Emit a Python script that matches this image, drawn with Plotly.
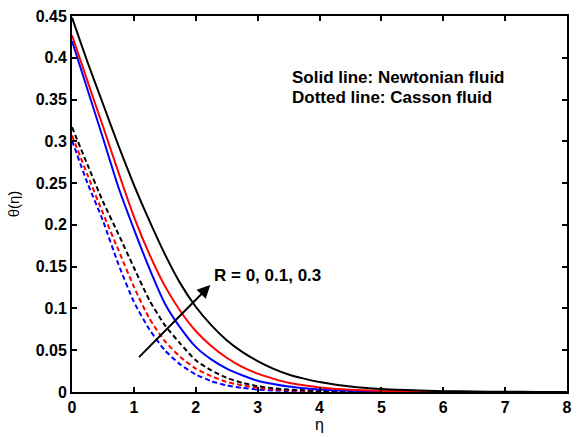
import plotly.graph_objects as go

eta = [0, 0.25, 0.5, 0.75, 1.0, 1.25, 1.5, 1.75, 2.0, 2.25, 2.5, 2.75, 3.0, 3.25, 3.5, 3.75, 4.0,
       4.5, 5.0, 5.5, 6.0, 6.5, 7.0, 7.5, 8.0]

# Newtonian (solid) R = 0, 0.1, 0.3  -> blue, red, black
newt_R0 = [0.420, 0.362, 0.304, 0.245, 0.195, 0.148, 0.106, 0.077, 0.054, 0.039, 0.028, 0.020, 0.0135, 0.0095, 0.0065, 0.0045, 0.003,
           0.0015, 0.0007, 0.0003, 0.0001, 0.0, 0.0, 0.0, 0.0]
newt_R1 = [0.427, 0.372, 0.318, 0.263, 0.210, 0.165, 0.127, 0.097, 0.073, 0.055, 0.041, 0.030, 0.022, 0.016, 0.011, 0.008, 0.0055,
           0.0027, 0.0013, 0.0006, 0.0003, 0.0001, 0.0, 0.0, 0.0]
newt_R3 = [0.448, 0.395, 0.345, 0.295, 0.248, 0.205, 0.165, 0.130, 0.102, 0.080, 0.062, 0.048, 0.037, 0.028, 0.021, 0.016, 0.012,
           0.0065, 0.0035, 0.002, 0.001, 0.0006, 0.0003, 0.0001, 0.0]

# Casson (dashed)
cas_R0 = [0.301, 0.250, 0.205, 0.153, 0.108, 0.075, 0.050, 0.033, 0.021, 0.013, 0.008, 0.005, 0.003, 0.0018, 0.001, 0.0006, 0.0004,
          0.0002, 0.0001, 0.0, 0.0, 0.0, 0.0, 0.0, 0.0]
cas_R1 = [0.307, 0.260, 0.214, 0.170, 0.126, 0.088, 0.061, 0.042, 0.028, 0.019, 0.012, 0.008, 0.005, 0.003, 0.002, 0.0012, 0.0008,
          0.0003, 0.0001, 0.0, 0.0, 0.0, 0.0, 0.0, 0.0]
cas_R3 = [0.317, 0.272, 0.228, 0.189, 0.149, 0.110, 0.080, 0.058, 0.038, 0.026, 0.017, 0.011, 0.007, 0.0045, 0.003, 0.002, 0.0012,
          0.0005, 0.0002, 0.0001, 0.0, 0.0, 0.0, 0.0, 0.0]

x_ticks = [0, 1, 2, 3, 4, 5, 6, 7, 8]
y_ticks = [0, 0.05, 0.1, 0.15, 0.2, 0.25, 0.3, 0.35, 0.4, 0.45]
y_ticklabels = ["0", "0.05", "0.1", "0.15", "0.2", "0.25", "0.3", "0.35", "0.4", "0.45"]

FONT = "Arial, 'Liberation Sans', sans-serif"

fig = go.Figure()
series = [
    (cas_R0, "blue", "dash"), (cas_R1, "red", "dash"), (cas_R3, "black", "dash"),
    (newt_R0, "blue", "solid"), (newt_R1, "red", "solid"), (newt_R3, "black", "solid"),
]
for ys, col, dash in series:
    fig.add_trace(go.Scatter(
        x=eta, y=ys, mode="lines",
        line=dict(color=col, width=2, dash="5px,3px" if dash == "dash" else "solid",
                  shape="spline", smoothing=0.6),
        showlegend=False, hoverinfo="skip"))

axis_common = dict(showline=True, linecolor="black", linewidth=2, mirror="allticks",
                   ticks="inside", ticklen=5, tickwidth=1.5, tickcolor="black",
                   showgrid=False, zeroline=False,
                   tickfont=dict(family=FONT, size=16, color="black"))

fig.update_xaxes(range=[0, 8], tickvals=x_ticks, ticktext=["<b>%s</b>" % v for v in x_ticks],
                 title=dict(text="η", font=dict(family=FONT, size=16, color="black"), standoff=4),
                 **axis_common)
fig.update_yaxes(range=[0, 0.45], tickvals=y_ticks, ticktext=["<b>%s</b>" % t for t in y_ticklabels],
                 title=dict(text="θ(η)", font=dict(family=FONT, size=15, color="black"), standoff=12),
                 **axis_common)

fig.add_annotation(x=2.235, y=0.128, ax=1.06, ay=0.040, xref="x", yref="y", axref="x", ayref="y",
                   showarrow=True, arrowhead=2, arrowsize=1.3, arrowwidth=2, arrowcolor="black", text="")
fig.add_annotation(x=2.26, y=0.140, xref="x", yref="y", text="<b>R = 0, 0.1, 0.3</b>",
                   showarrow=False, xanchor="left", yanchor="middle",
                   font=dict(family=FONT, size=17, color="black"))
fig.add_annotation(x=3.52, y=0.376, xref="x", yref="y", text="<b>Solid line: Newtonian fluid</b>",
                   showarrow=False, xanchor="left", yanchor="middle",
                   font=dict(family=FONT, size=17, color="black"))
fig.add_annotation(x=3.52, y=0.352, xref="x", yref="y", text="<b>Dotted line: Casson fluid</b>",
                   showarrow=False, xanchor="left", yanchor="middle",
                   font=dict(family=FONT, size=17, color="black"))

fig.update_layout(width=577, height=437, margin=dict(l=72, r=5, t=16, b=45),
                  paper_bgcolor="white", plot_bgcolor="white",
                  font=dict(family=FONT, color="black"))

fig.write_html("out.html")
